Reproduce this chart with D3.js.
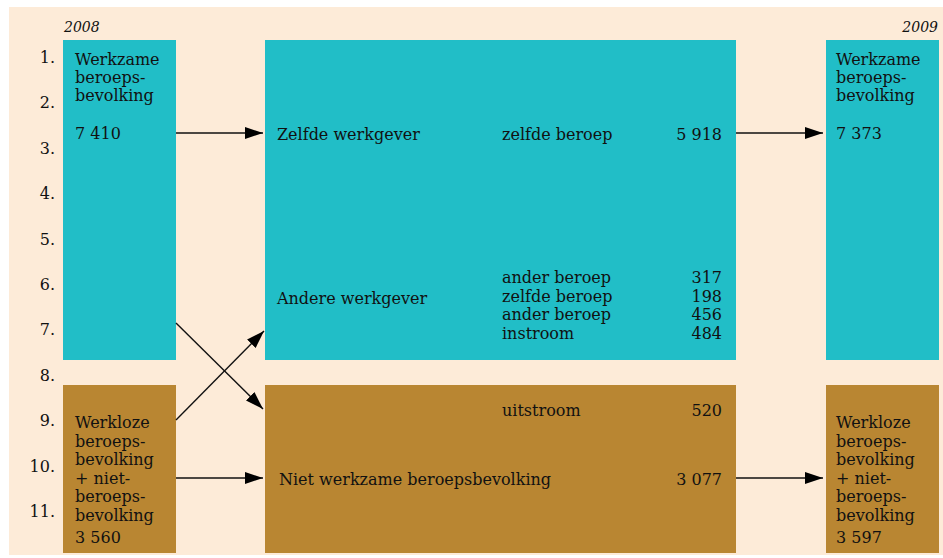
<!DOCTYPE html>
<html>
<head>
<meta charset="utf-8">
<script src="https://cdn.jsdelivr.net/npm/d3@7"></script>
<style>
  html, body { margin: 0; padding: 0; background: #fff; }
  svg { display: block; }
  text { font-family: "DejaVu Serif", serif; fill: #111; }
</style>
</head>
<body>
<div id="chart"></div>
<script>
// Data
const years = ['2008', '2009'];
const rowLabels = ['1.', '2.', '3.', '4.', '5.', '6.', '7.', '8.', '9.', '10.', '11.'];
const stockNames = ['werkzaam', 'nietWerkzaam'];
const stockLines = [
  ['Werkzame', 'beroeps-', 'bevolking'],
  ['Werkloze', 'beroeps-', 'bevolking', '+ niet-', 'beroeps-', 'bevolking']
];
const stocks2008 = [7410, 3560];
const stocks2009 = [7373, 3597];
const groupLabels = ['Zelfde werkgever', 'Andere werkgever', 'Niet werkzame beroepsbevolking'];
const flowLabels = ['zelfde beroep', 'ander beroep', 'zelfde beroep', 'ander beroep', 'instroom', 'uitstroom'];
const flowValues = [5918, 317, 198, 456, 484, 520];
const nietWerkzaamValue = 3077;

const width = 943;
const height = 558;

const fmt = d3.formatLocale({ decimal: ',', thousands: ' ', grouping: [3], currency: ['', ''] }).format(',d');

const colors = { werkzaam: '#21bec7', nietWerkzaam: '#b98632', bg: '#fdebd8' };

const svg = d3.select('#chart').append('svg')
  .attr('width', width)
  .attr('height', height);

// row scale: baseline of row labels
const y = d3.scaleLinear().domain([1, 11]).range([63, 517]);

// columns
const col = d3.scaleOrdinal()
  .domain(['left', 'mid', 'right'])
  .range([[63, 176], [265, 736], [826, 939]]);

// band of each stock in row units
const band = d3.scaleOrdinal()
  .domain(stockNames)
  .range([[y.invert(40), y.invert(360)], [y.invert(385), y.invert(553)]]);

svg.append('rect')
  .attr('x', 9).attr('y', 7)
  .attr('width', width - 9).attr('height', 548)
  .attr('fill', colors.bg);

// year labels
svg.selectAll('.year')
  .data(years)
  .join('text')
  .attr('class', 'year')
  .attr('x', (d, i) => i === 0 ? col('left')[0] + 1 : col('right')[1] - 1)
  .attr('y', 32)
  .attr('text-anchor', (d, i) => i === 0 ? 'start' : 'end')
  .style('font-style', 'italic')
  .style('font-size', '14px')
  .text(d => d);

// row labels
svg.selectAll('.row')
  .data(rowLabels)
  .join('text')
  .attr('class', 'row')
  .attr('x', 55)
  .attr('y', (d, i) => y(i + 1))
  .attr('text-anchor', 'end')
  .style('font-size', '16px')
  .text(d => d);

// boxes
const boxes = [];
['left', 'mid', 'right'].forEach(c => {
  stockNames.forEach(s => boxes.push({ c, s }));
});

svg.selectAll('.box')
  .data(boxes)
  .join('rect')
  .attr('class', 'box')
  .attr('x', d => col(d.c)[0])
  .attr('width', d => col(d.c)[1] - col(d.c)[0])
  .attr('y', d => y(band(d.s)[0]))
  .attr('height', d => y(band(d.s)[1]) - y(band(d.s)[0]))
  .attr('fill', d => colors[d.s]);

// stock texts
const lineH = 18.5;
const stockTextTop = { werkzaam: 65, nietWerkzaam: 428 };
const stockValueY = { werkzaam: 139, nietWerkzaam: 543 };

[['left', stocks2008, 75], ['right', stocks2009, 836]].forEach(([c, vals, tx]) => {
  stockNames.forEach((s, i) => {
    const g = svg.append('g');
    g.selectAll('text.l')
      .data(stockLines[i])
      .join('text')
      .attr('class', 'l')
      .attr('x', tx)
      .attr('y', (d, j) => stockTextTop[s] + j * (i === 0 ? 18 : lineH))
      .style('font-size', '16px')
      .text(d => d);
    g.append('text')
      .attr('x', tx)
      .attr('y', stockValueY[s])
      .style('font-size', '16px')
      .text(fmt(vals[i]));
  });
});

// middle texts
const midX = col('mid')[0];
const groupY = [140, 304, 485];
svg.selectAll('.grp')
  .data(groupLabels)
  .join('text')
  .attr('class', 'grp')
  .attr('x', (d, i) => midX + (i === 2 ? 14 : 12))
  .attr('y', (d, i) => groupY[i])
  .style('font-size', '16px')
  .text(d => d);

const flowY = [140, 283, 301.6, 320.2, 338.8, 416];
svg.selectAll('.flab')
  .data(flowLabels)
  .join('text')
  .attr('class', 'flab')
  .attr('x', 502)
  .attr('y', (d, i) => flowY[i])
  .style('font-size', '16px')
  .text(d => d);

svg.selectAll('.fval')
  .data(flowValues.concat([nietWerkzaamValue]))
  .join('text')
  .attr('class', 'fval')
  .attr('x', 722)
  .attr('y', (d, i) => i < flowY.length ? flowY[i] : groupY[2])
  .attr('text-anchor', 'end')
  .style('font-size', '16px')
  .text(d => fmt(d));

// arrows
svg.append('defs').append('marker')
  .attr('id', 'head')
  .attr('markerUnits', 'userSpaceOnUse')
  .attr('viewBox', '0 0 18 12')
  .attr('refX', 18).attr('refY', 6)
  .attr('markerWidth', 18).attr('markerHeight', 12)
  .attr('orient', 'auto')
  .append('path')
  .attr('d', 'M0,0 L18,6 L0,12 Z')
  .attr('fill', '#000');

const arrows = [
  [176, 133, 263, 133],
  [736, 133, 823, 133],
  [176, 323, 263, 409],
  [176, 420, 264, 331],
  [176, 478, 263, 478],
  [736, 478, 823, 478]
];

svg.selectAll('.arrow')
  .data(arrows)
  .join('line')
  .attr('class', 'arrow')
  .attr('x1', d => d[0]).attr('y1', d => d[1])
  .attr('x2', d => d[2]).attr('y2', d => d[3])
  .attr('stroke', '#111')
  .attr('stroke-width', 1.4)
  .attr('marker-end', 'url(#head)');
</script>
</body>
</html>
